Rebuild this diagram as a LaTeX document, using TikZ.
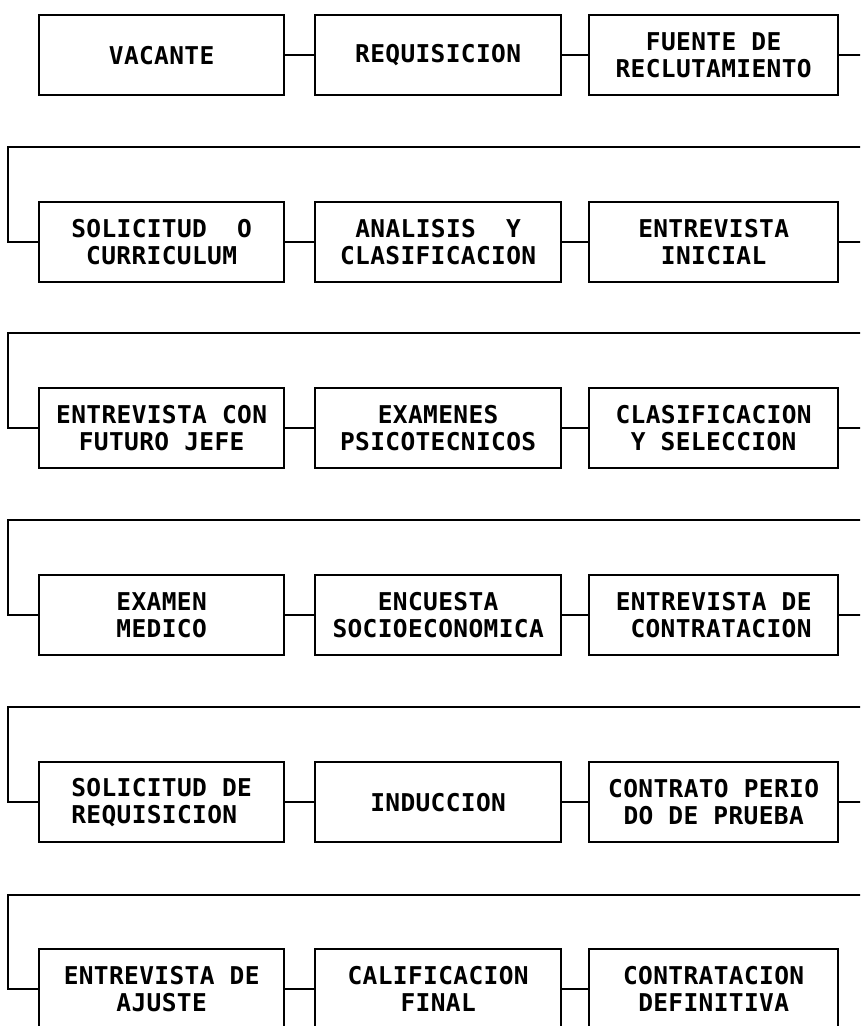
\documentclass[tikz,border=0pt]{standalone}
\usepackage{fontspec}
\newfontfamily\boxfont[LetterSpace=1.5]{DejaVu Sans Mono}
\begin{document}
\begin{tikzpicture}[x=1pt,y=-1pt,
  stepbox/.style={draw, line width=2.3pt, minimum height=80pt, inner sep=0pt,
    font=\boxfont\bfseries\fontsize{24.5}{27}\selectfont, align=center, anchor=north west},
  colA/.style={stepbox, minimum width=245pt},
  colB/.style={stepbox, minimum width=246pt},
  colC/.style={stepbox, minimum width=249pt},
  link/.style={line width=2.3pt}]
\useasboundingbox (0,0) rectangle (860,1026);
\clip (0,0) rectangle (860,1026);
% row 1
\node[colA] (a1) at (38,14) {VACANTE};
\node[colB] (b1) at (314,14) {REQUISICION};
\node[colC] (c1) at (588,14) {FUENTE DE\\RECLUTAMIENTO};
% row 2
\node[colA] (a2) at (38,201) {SOLICITUD\ \ O\\CURRICULUM};
\node[colB] (b2) at (314,201) {ANALISIS\ \ Y\\CLASIFICACION};
\node[colC] (c2) at (588,201) {ENTREVISTA\\INICIAL};
% row 3
\node[colA] (a3) at (38,387) {ENTREVISTA CON\\FUTURO JEFE};
\node[colB] (b3) at (314,387) {EXAMENES\\PSICOTECNICOS};
\node[colC] (c3) at (588,387) {CLASIFICACION\\Y SELECCION};
% row 4
\node[colA] (a4) at (38,574) {EXAMEN\\MEDICO};
\node[colB] (b4) at (314,574) {ENCUESTA\\SOCIOECONOMICA};
\node[colC, align=right] (c4) at (588,574) {ENTREVISTA DE\\CONTRATACION};
% row 5
\node[colA, align=left] (a5) at (38,761) {SOLICITUD DE\\REQUISICION};
\node[colB] (b5) at (314,761) {INDUCCION};
\node[colC] (c5) at (588,761) {CONTRATO PERIO\\DO DE PRUEBA};
% row 6
\node[colA] (a6) at (38,948) {ENTREVISTA DE\\AJUSTE};
\node[colB] (b6) at (314,948) {CALIFICACION\\FINAL};
\node[colC] (c6) at (588,948) {CONTRATACION\\DEFINITIVA};
% connectors within rows
\foreach \r in {1,...,6}{
  \draw[link] (a\r.east) -- (b\r.west);
  \draw[link] (b\r.east) -- (c\r.west);
}
% wrap-around connectors
\draw[link] (c1.east) -- ++(40,0) |- (8,147) |- (a2.west);
\draw[link] (c2.east) -- ++(40,0) |- (8,333) |- (a3.west);
\draw[link] (c3.east) -- ++(40,0) |- (8,520) |- (a4.west);
\draw[link] (c4.east) -- ++(40,0) |- (8,707) |- (a5.west);
\draw[link] (c5.east) -- ++(40,0) |- (8,895) |- (a6.west);
\end{tikzpicture}
\end{document}
